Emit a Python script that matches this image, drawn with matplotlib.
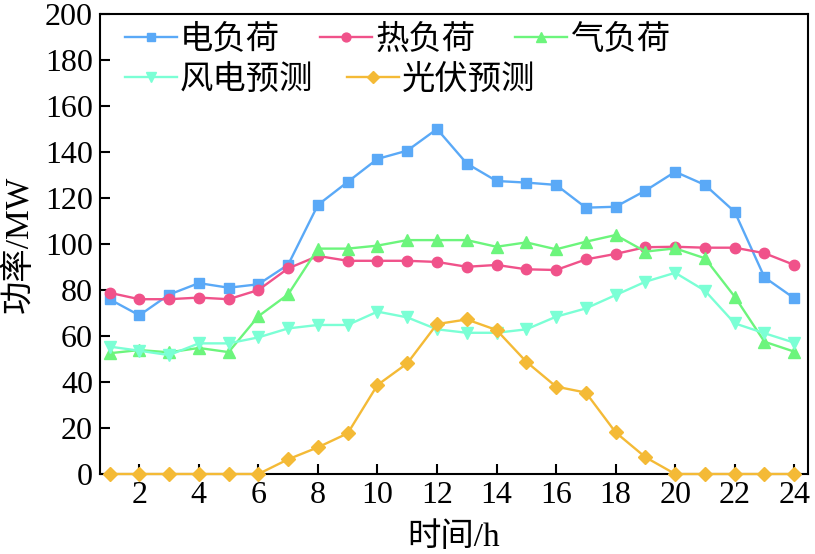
import matplotlib
matplotlib.use("Agg")
import matplotlib.pyplot as plt

plt.rcParams['font.family'] = ['Liberation Serif', 'Noto Sans CJK SC']

hours = list(range(1, 25))
elec = [76, 69, 78, 83, 81, 82.5, 91, 117, 127, 137, 140.6, 150,
        135, 127.4, 126.7, 125.7, 115.8, 116.2, 123.2, 131.4, 125.7, 114, 85.5, 76.4]
heat = [78.8, 76, 76, 76.7, 76, 80, 89.4, 94.8, 92.7, 92.7, 92.7, 92.2,
        90.1, 90.9, 89, 88.7, 93.3, 95.7, 98.6, 98.8, 98.4, 98.4, 96, 90.9]
gas = [52.5, 53.9, 52.9, 54.8, 53, 68.6, 78.1, 98, 98, 99.3, 101.7, 101.7,
       101.7, 98.8, 100.7, 97.7, 101, 103.9, 96.7, 98.1, 93.8, 77.1, 57.5, 53.2]
wind = [55.4, 53.6, 51.7, 56.8, 56.8, 59.4, 63.3, 64.8, 64.8, 70.6, 68.1, 62.9,
        61.4, 61.4, 62.9, 68.4, 72, 77.8, 83.6, 87.5, 79.7, 65.5, 61.2, 57.1]
pv = [0, 0, 0, 0, 0, 0, 6.4, 11.6, 17.7, 38.7, 48.1, 65.2,
      67.2, 62.6, 48.8, 38, 35.4, 18.1, 7.3, 0, 0, 0, 0, 0]

labels = ['电负荷', '热负荷', '气负荷', '风电预测', '光伏预测']
xticks = list(range(2, 25, 2))
yticks = list(range(0, 201, 20))

fig = plt.figure(figsize=(8.15, 5.54), dpi=100)
ax = fig.add_axes([0.1227, 0.1444, 0.8683, 0.8303])

styles = [
    (elec, '#5AA9F7', 's', 7),
    (heat, '#F0528A', 'o', 7.5),
    (gas, '#6CF57C', '^', 8),
    (wind, '#7BFFD5', 'v', 8),
    (pv, '#F4BA36', 'D', 7),
]
handles = []
for (data, c, m, ms), lab in zip(styles, labels):
    h, = ax.plot(hours, data, color=c, marker=m, markersize=ms, linewidth=1.7,
                 label=lab, clip_on=False, zorder=3)
    handles.append(h)

ax.set_xlim(0.68, 24.45)
ax.set_ylim(0, 200)
ax.set_xticks(xticks)
ax.set_yticks(yticks)
ax.tick_params(direction='in', length=7, width=1.5, labelsize=23, top=False, right=False, pad=5)
for s in ax.spines.values():
    s.set_linewidth(1.5)
ax.set_xlabel('时间/h', fontsize=24, labelpad=9)
ax.set_ylabel('功率/MW', fontsize=24)
ax.yaxis.set_label_coords(-0.092, 0.5)

common = dict(frameon=False, fontsize=24, handlelength=1.55, handletextpad=0.1,
              borderpad=0, borderaxespad=0, markerscale=0.85, loc='center left')
leg1 = fig.legend(handles[:3], labels[:3], ncol=3, columnspacing=1.2,
                  bbox_to_anchor=(125 / 815, 1 - 40 / 554), **common)
leg2 = fig.legend(handles[3:], labels[3:], ncol=2, columnspacing=1.0,
                  bbox_to_anchor=(125 / 815, 1 - 80 / 554), **common)

fig.savefig('out.png', dpi=100)
